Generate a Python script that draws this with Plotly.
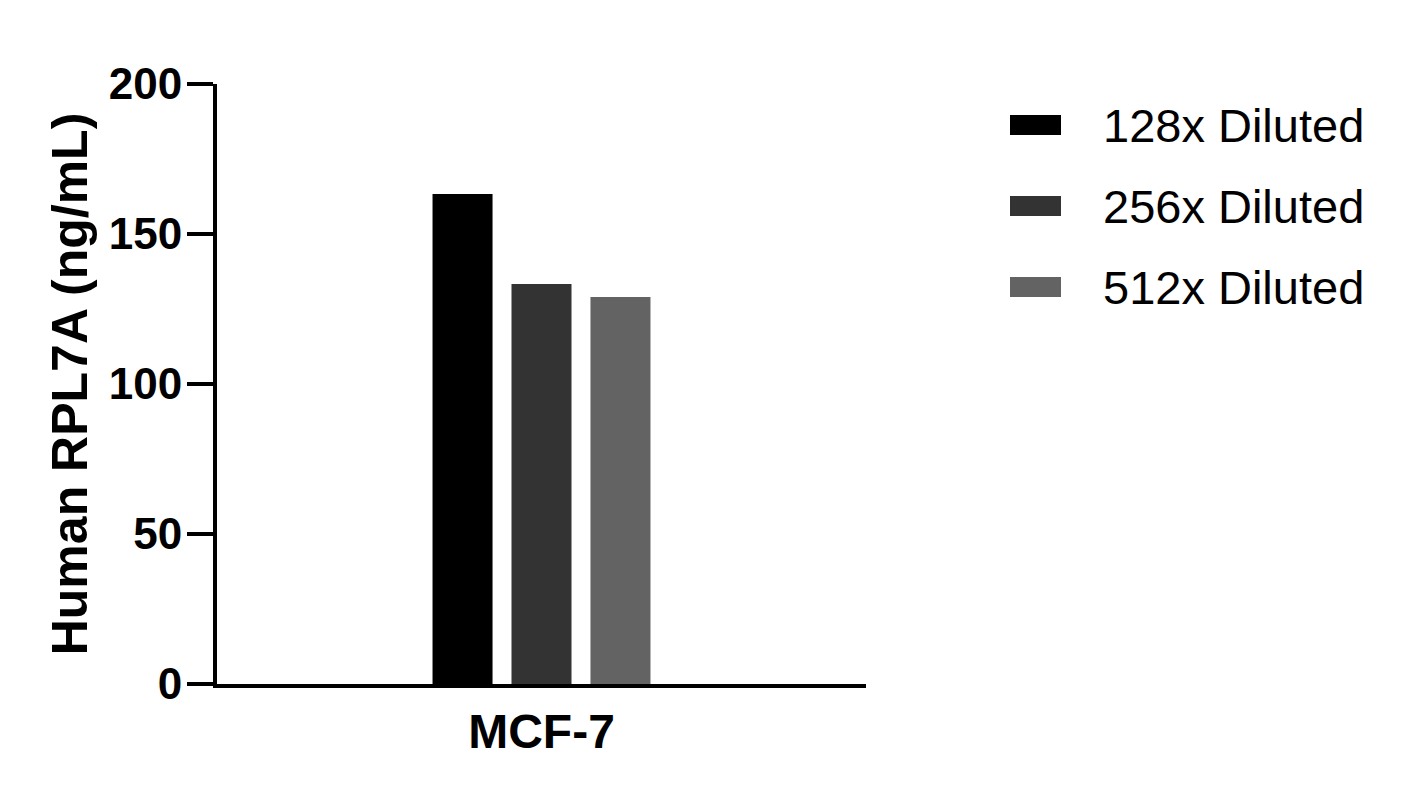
import plotly.graph_objects as go

# data
categories = ["MCF-7"]
series_names = ["128x Diluted", "256x Diluted", "512x Diluted"]
values_128 = [163.3]
values_256 = [133.3]
values_512 = [129.0]
bar_colors = ["#000000", "#333333", "#636363"]
y_ticks = [0, 50, 100, 150, 200]

FONT = "Liberation Sans, Arial, sans-serif"

fig = go.Figure()
for name, vals, col in zip(series_names, [values_128, values_256, values_512], bar_colors):
    fig.add_trace(go.Bar(x=categories, y=vals, name=name, marker_color=col,
                         marker_line_width=0, showlegend=False))

# page has an 8px body margin, so figure coords = page coords - 8
OFF = 8
W, H = 1412, 804
L, T = 209, 76
R, B = W - 858, H - 676
pw, ph = W - L - R, H - T - B

def px_x(x):
    return (x - OFF - L) / pw

def px_y(y):
    return (H - B - (y - OFF)) / ph

# hand-made legend with wide swatches (page pixel positions)
row_y = [125, 206, 287]
for name, col, ry in zip(series_names, bar_colors, row_y):
    fig.add_shape(type="rect", xref="paper", yref="paper",
                  x0=px_x(1010), x1=px_x(1061), y0=px_y(ry + 10), y1=px_y(ry - 10),
                  fillcolor=col, line_width=0)
    fig.add_annotation(text=name, xref="paper", yref="paper", x=px_x(1101), y=px_y(ry),
                       xanchor="left", yanchor="middle", showarrow=False,
                       font=dict(family=FONT, size=47, color="black"))

fig.update_layout(
    width=W, height=H,
    margin=dict(l=L, r=R, t=T, b=B),
    paper_bgcolor="white", plot_bgcolor="white",
    barmode="group", bargap=0.635, bargroupgap=0.24,
    font=dict(family=FONT, color="black"),
)
fig.update_xaxes(
    range=[-0.5, 0.5], showline=True, linewidth=4, linecolor="black",
    ticks="", showgrid=False, zeroline=False, ticklabelstandoff=2,
    tickfont=dict(family=FONT, size=48, color="black", weight="bold"),
)
fig.update_yaxes(
    range=[0, 200], tickvals=y_ticks, showline=True, linewidth=4, linecolor="black",
    ticks="outside", ticklen=26, tickwidth=4, tickcolor="black",
    showgrid=False, zeroline=False, ticklabelstandoff=-4,
    tickfont=dict(family=FONT, size=44, color="black", weight="bold"),
    title=dict(text="Human RPL7A (ng/mL)", standoff=6,
               font=dict(family=FONT, size=50, color="black", weight="bold")),
)

fig.write_html("out.html")
